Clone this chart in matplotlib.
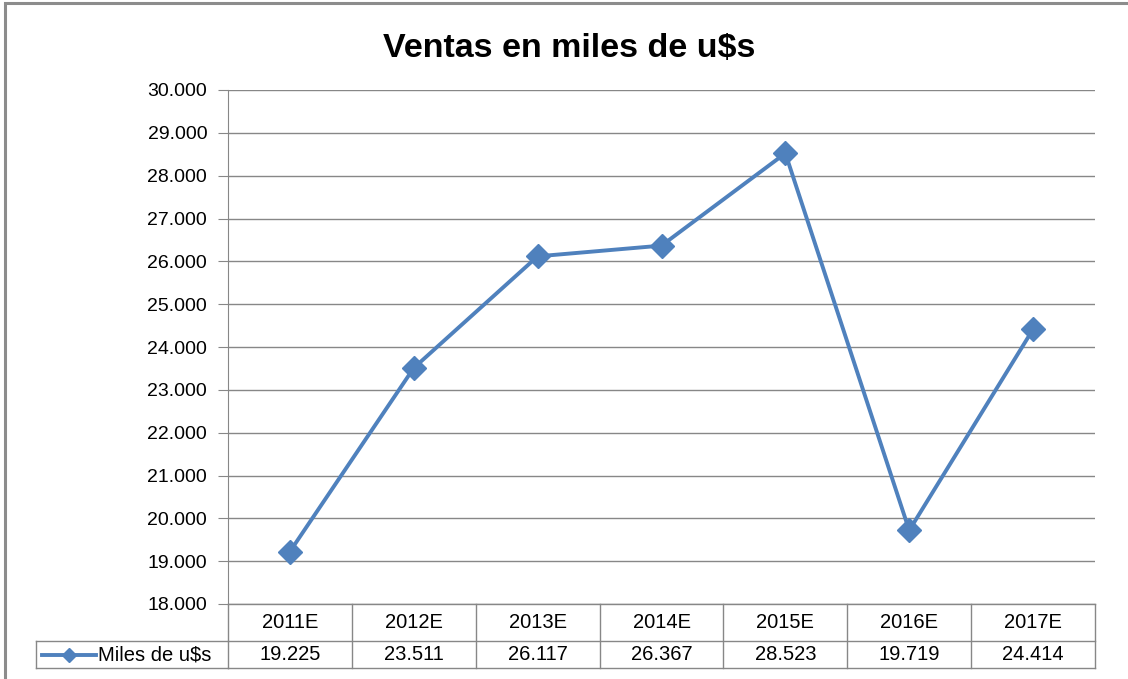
import matplotlib.pyplot as plt
import matplotlib.transforms as transforms
from matplotlib.patches import Rectangle
from matplotlib.ticker import FuncFormatter

plt.rcParams['font.family'] = ['Liberation Sans', 'DejaVu Sans']

years = ['2011E', '2012E', '2013E', '2014E', '2015E', '2016E', '2017E']
ventas = [19225, 23511, 26117, 26367, 28523, 19719, 24414]
serie = 'Miles de u$s'
titulo = 'Ventas en miles de u$s'
y_ticks = list(range(18000, 30001, 1000))

blue = '#4F81BD'
grey = '#878787'


def miles(v, pos=None):
    return f"{int(v):,}".replace(',', '.')


fig = plt.figure(figsize=(11.28, 6.79), dpi=100)
# outer chart frame (Excel chart area)
fig.patches.append(Rectangle((5 / 1128, -0.1), 1.2, 1.1 - 3 / 679, transform=fig.transFigure,
                             fill=False, edgecolor='#8c8c8c', linewidth=2.2))

ax = fig.add_axes([228 / 1128, 75 / 679, 867 / 1128, 514 / 679])
x = list(range(len(years)))
ax.plot(x, ventas, color=blue, linewidth=2.8, marker='D', markersize=12, zorder=3)

ax.set_xlim(-0.5, len(years) - 0.5)
ax.set_ylim(y_ticks[0], y_ticks[-1])
ax.set_yticks(y_ticks)
ax.yaxis.set_major_formatter(FuncFormatter(miles))
ax.set_xticks([])
ax.grid(axis='y', color=grey, linewidth=1)
ax.set_axisbelow(True)
for s in ['top', 'right', 'bottom']:
    ax.spines[s].set_visible(False)
ax.spines['left'].set_color(grey)
ax.tick_params(axis='y', length=7, color=grey, labelsize=14, pad=8)

fig.suptitle(titulo, x=0.505, y=0.952, fontsize=24.5, fontweight='bold')

# data table under the plot
trans = transforms.blended_transform_factory(ax.transData, ax.transAxes)
h1 = -37 / 514
h2 = -64 / 514
n = len(years)
lk = dict(color=grey, linewidth=1, clip_on=False)
ax.plot([-0.5, n - 0.5], [0, 0], transform=trans, **lk)
ax.plot([-0.5, n - 0.5], [h1, h1], transform=trans, **lk)
ax.plot([-0.5, n - 0.5], [h2, h2], transform=trans, **lk)
for i in range(n + 1):
    ax.plot([i - 0.5, i - 0.5], [0, h2], transform=trans, **lk)
for i, (yr, v) in enumerate(zip(years, ventas)):
    ax.text(i, h1 / 2, yr, transform=trans, ha='center', va='center', fontsize=14.5)
    ax.text(i, (h1 + h2) / 2, miles(v), transform=trans, ha='center', va='center', fontsize=14.5)

# legend cell
lx = -192 / 867
ax.plot([lx, 0], [h1, h1], transform=ax.transAxes, **lk)
ax.plot([lx, 0], [h2, h2], transform=ax.transAxes, **lk)
ax.plot([lx, lx], [h1, h2], transform=ax.transAxes, **lk)
ym = (h1 + h2) / 2
ax.plot([lx + 6 / 867, lx + 60 / 867], [ym, ym], transform=ax.transAxes, color=blue,
        linewidth=2.8, clip_on=False)
ax.plot([lx + 33 / 867], [ym], transform=ax.transAxes, color=blue, marker='D',
        markersize=7, clip_on=False)
ax.text(lx + 62 / 867, ym, serie, transform=ax.transAxes, ha='left', va='center', fontsize=14.5)

fig.savefig('out.png', dpi=100)
